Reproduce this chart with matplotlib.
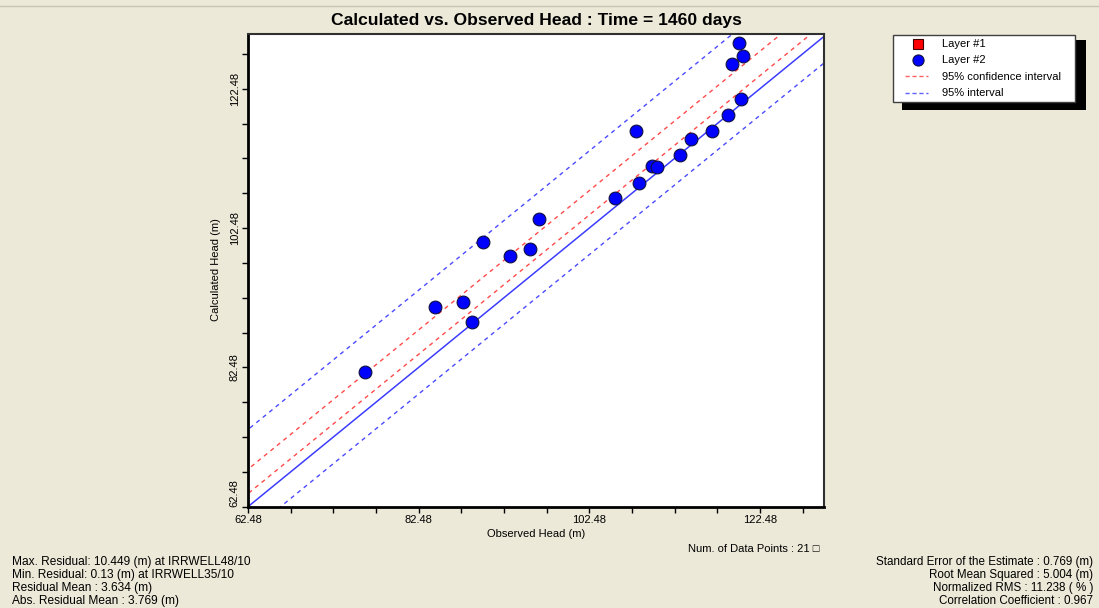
import matplotlib
matplotlib.use('Agg')
import matplotlib.pyplot as plt
from matplotlib.patches import Rectangle
from matplotlib.lines import Line2D
import numpy as np

# observed / calculated head (m), layer #2
observed = [76.20, 84.40, 87.72, 88.78, 90.06, 93.23, 95.54, 96.63, 105.50, 108.35,
            107.97, 109.81, 110.39, 113.12, 114.38, 116.84, 118.79, 120.24, 119.19,
            120.08, 120.55]
calculated = [81.86, 91.20, 91.83, 88.96, 100.48, 98.47, 99.44, 103.74, 106.84, 108.91,
              116.42, 111.40, 111.30, 112.93, 115.27, 116.42, 118.76, 121.06, 126.04,
              129.10, 127.19]

# offsets of the interval lines from the 1:1 line
conf_offsets = [5.38, 1.88]
interval_offsets = [11.08, -3.82]

ticks = [62.48, 82.48, 102.48, 122.48]
title = 'Calculated vs. Observed Head : Time = 1460 days'
left_stats = ['Max. Residual: 10.449 (m) at IRRWELL48/10',
              'Min. Residual: 0.13 (m) at IRRWELL35/10',
              'Residual Mean : 3.634 (m)',
              'Abs. Residual Mean : 3.769 (m)']
right_stats = ['Standard Error of the Estimate : 0.769 (m)',
               'Root Mean Squared : 5.004 (m)',
               'Normalized RMS : 11.238 ( % )',
               'Correlation Coefficient : 0.967']
legend_labels = ['Layer #1', 'Layer #2', '95% confidence interval', '95% interval']

W, H = 1099, 608
BG = '#ECE9D8'
plt.rcParams['font.family'] = ['Liberation Sans', 'DejaVu Sans']


def px(x, y):
    return x / W, 1 - y / H


fig = plt.figure(figsize=(W / 100, H / 100), dpi=100, facecolor=BG)
ax = fig.add_axes([248 / W, 1 - 506.7 / H, (824 - 248) / W, (506.7 - 34) / H])
xmin, xmax = 62.48, 130.0
ymin, ymax = 62.48, 130.35
ax.set_xlim(xmin, xmax)
ax.set_ylim(ymin, ymax)

line_x = np.array([40, 150])
ax.plot(line_x, line_x, color='#3c3cff', lw=1.1, zorder=2)
for off in conf_offsets:
    ax.plot(line_x, line_x + off, color='#ff4a4a', lw=1, ls=(0, (3, 3)), zorder=2)
for off in interval_offsets:
    ax.plot(line_x, line_x + off, color='#4a4aff', lw=1, ls=(0, (3, 3)), zorder=2)

ax.plot(observed, calculated, 'o', color='#0000ff', ms=9.2, mec='#101040', mew=0.8,
        zorder=3, clip_on=False)

ax.set_xticks(ticks)
ax.set_yticks(ticks)
ax.set_xticks(np.arange(67.48, 130, 5), minor=True)
ax.set_yticks(np.arange(67.48, 130, 5), minor=True)
ax.set_xticklabels([f'{t:.2f}' for t in ticks], fontsize=8)
ax.set_yticklabels([f'{t:.2f}' for t in ticks], fontsize=8, rotation=90, va='center')
ax.get_yticklabels()[0].set_va('bottom')
ax.tick_params(which='both', direction='out', length=4, width=1, color='black', pad=2)
for side in ['left', 'bottom']:
    ax.spines[side].set_linewidth(2)
    ax.spines[side].set_color('black')
for side in ['top', 'right']:
    ax.spines[side].set_linewidth(1.5)
    ax.spines[side].set_color('#303030')

fig.text(*px(536, 20), title, fontsize=12.6, fontweight='bold', ha='center', va='center')
fig.text(*px(536, 534), 'Observed Head (m)', fontsize=8, ha='center', va='center')
fig.text(*px(216, 270), 'Calculated Head (m)', fontsize=8, ha='center', va='center',
         rotation=90)
fig.text(*px(820, 549), 'Num. of Data Points : 21 \u25a1', fontsize=8, ha='right',
         va='center')

for i, s in enumerate(left_stats):
    fig.text(*px(12, 562 + i * 13), s, fontsize=8.6, ha='left', va='center')
for i, s in enumerate(right_stats):
    fig.text(*px(1093, 562 + i * 13), s, fontsize=8.4, ha='right', va='center')

# thin window line at the very top
fig.add_artist(Line2D([0, 1], [1 - 6 / H, 1 - 6 / H], color='#c9c5b2', lw=1))

# legend box with shadow
x0, y0 = px(902, 110)
fig.add_artist(Rectangle((x0, y0), (1086 - 902) / W, (110 - 40) / H,
                         transform=fig.transFigure, facecolor='black', edgecolor='none'))
x0, y0 = px(893, 102)
fig.add_artist(Rectangle((x0, y0), (1075 - 893) / W, (102 - 35) / H,
                         transform=fig.transFigure, facecolor='white', edgecolor='#404040',
                         lw=1))
fig.add_artist(Line2D([px(918, 0)[0]], [px(0, 43.5)[1]], marker='s', ms=7,
                      color='#ff0000', mec='#400000', mew=0.8, ls='none'))
fig.add_artist(Line2D([px(918, 0)[0]], [px(0, 59.5)[1]], marker='o', ms=8,
                      color='#0000ff', mec='#101040', mew=0.8, ls='none'))
fig.add_artist(Line2D([905 / W, 928 / W], [px(0, 76)[1]] * 2, color='#ff6060', lw=1,
                      ls=(0, (3, 2))))
fig.add_artist(Line2D([905 / W, 928 / W], [px(0, 92.5)[1]] * 2, color='#6060ff', lw=1,
                      ls=(0, (3, 2))))
for i, lab in enumerate(legend_labels):
    fig.text(*px(942, 44 + i * 16.3), lab, fontsize=8, ha='left', va='center')

fig.savefig('out.png', dpi=100, facecolor=BG)
